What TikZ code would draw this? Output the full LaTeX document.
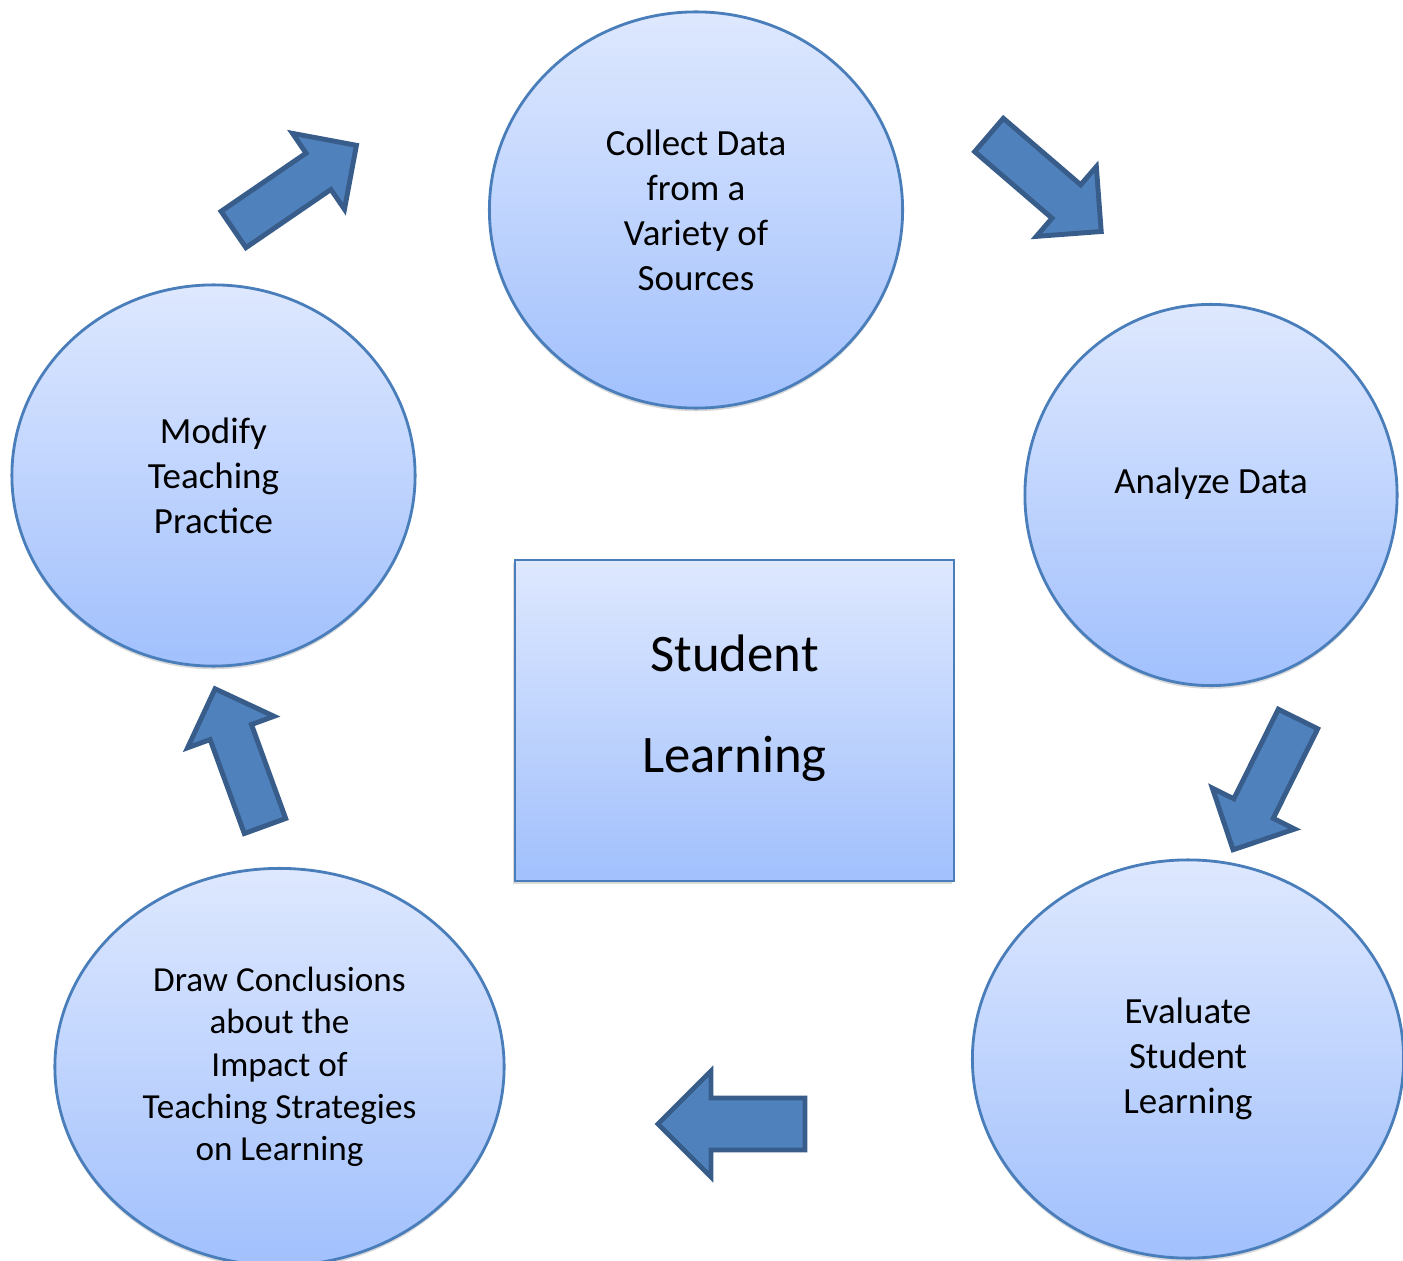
\documentclass[tikz,border=0pt]{standalone}
\usepackage{fontspec}
\setmainfont{Carlito}
\usetikzlibrary{shapes.geometric,shadows}

\definecolor{stageline}{RGB}{74,126,187}
\definecolor{stagetop}{RGB}{222,232,254}
\definecolor{stagebottom}{RGB}{161,192,253}
\definecolor{turnfill}{RGB}{79,129,189}
\definecolor{turnline}{RGB}{56,93,138}

% block arrow: tail middle, angle, length, half shaft, half head
\newcommand{\turnarrow}[5]{%
  \draw[turn, shift={(#1)}, rotate=#2]
    (0,-#4) -- (#3-#5,-#4) -- (#3-#5,-#5) -- (#3,0)
    -- (#3-#5,#5) -- (#3-#5,#4) -- (0,#4) -- cycle;}

\begin{document}
\begin{tikzpicture}[x=0.01cm, y=-0.01cm, font=\fontsize{10.5}{12.8}\selectfont]
	\tikzstyle{stage}=[ellipse, draw=stageline, line width=0.8pt, top color=stagetop, bottom color=stagebottom,
		inner sep=0pt, align=center, drop shadow={opacity=0.3, shadow xshift=0pt, shadow yshift=-0.9pt}]
	\tikzstyle{learnbox}=[rectangle, draw=stageline, line width=0.7pt, top color=stagetop, bottom color=stagebottom,
		inner sep=0pt, drop shadow={opacity=0.3, shadow xshift=-0.6pt, shadow yshift=-0.9pt}]
	\tikzstyle{turn}=[fill=turnfill, draw=turnline, line width=1.4pt, line join=miter]

	\useasboundingbox (0,0) rectangle (1403,1261);

	\node[stage, minimum width=4.13cm, minimum height=3.96cm] (collect) at (696,210)
		{Collect Data\\from a\\Variety of\\Sources};
	\node[stage, minimum width=3.72cm, minimum height=3.81cm,
		label={[yshift=3.2pt]center:Analyze Data}] (analyze) at (1211,495) {};
	\node[stage, minimum width=4.31cm, minimum height=3.98cm] (evaluate) at (1188,1059)
		{Evaluate\\Student\\Learning};
	\node[stage, minimum width=4.49cm, minimum height=3.97cm, font=\fontsize{10}{12}\selectfont] (conclude) at (279.5,1067)
		{Draw Conclusions\\about the\\Impact of\\Teaching Strategies\\on Learning};
	\node[stage, minimum width=4.03cm, minimum height=3.81cm] (modify) at (213.5,475.5)
		{Modify\\Teaching\\Practice};

	\node[learnbox, minimum width=4.39cm, minimum height=3.21cm,
		label={[align=center, font=\fontsize{15}{28.5}\selectfont, yshift=3.5pt]center:Student\\Learning}] (learning) at (734.5,720.5) {};

	% arrows round the cycle
	\turnarrow{233.5,229.5}{34.4}{149}{22}{46}
	\turnarrow{989,135}{-40.7}{148}{22}{46}
	\turnarrow{1298,719}{-116.4}{146}{22}{46}
	\turnarrow{805,1124}{180}{147}{26}{53}
	\turnarrow{265,826}{110}{146}{22}{46}
\end{tikzpicture}
\end{document}
